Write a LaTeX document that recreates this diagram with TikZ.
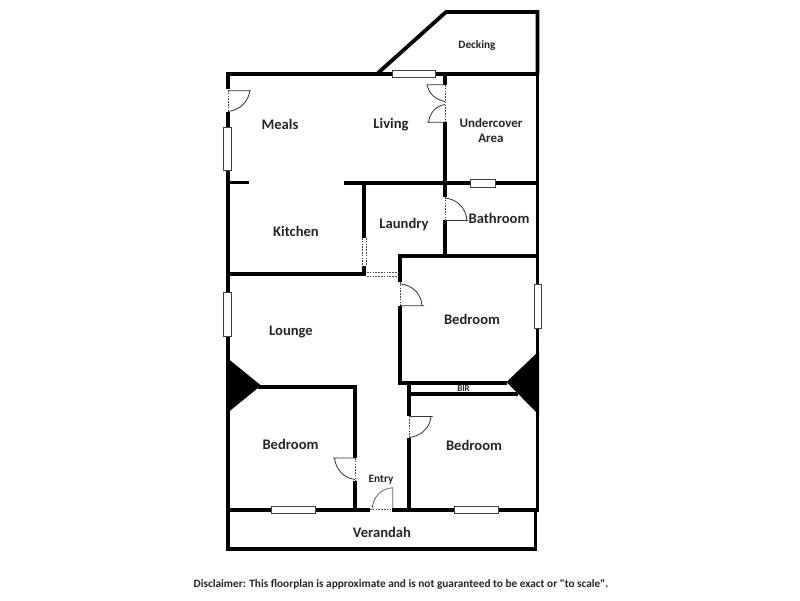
\documentclass[tikz,border=0pt]{standalone}
\usepackage{fontspec}
\newfontfamily\planfont{Carlito}
\tikzset{
  wall/.style={line width=3.8pt,black,line cap=butt},
  thinwall/.style={line width=3.2pt,black},
  window/.style={draw=black!75,fill=white,line width=0.8pt},
  doorgap/.style={draw=black!70,line width=0.7pt,dash pattern=on 1.6pt off 1.2pt},
  leaf/.style={draw=black!80,line width=0.8pt},
  room/.style={font=\planfont\bfseries\fontsize{14.6}{15}\selectfont,text=black!85,inner sep=0pt,align=center},
  small/.style={font=\planfont\bfseries\fontsize{11.3}{12}\selectfont,text=black!85,inner sep=0pt,align=center},
}
\begin{document}
\begin{tikzpicture}[x=1pt,y=-1pt]
\useasboundingbox (0,0) rectangle (800,600);
\fill[white] (0,0) rectangle (800,600);
% decking
\draw[wall,line join=miter] (378,73) -- (446,12) -- (537.5,12) -- (537.5,74);
% outer
\draw[wall] (226,74) -- (539,74);
\draw[wall] (227.7,74) -- (227.7,89);
\draw[wall] (227.7,112) -- (227.7,358);
\draw[wall] (537.5,74) -- (537.5,512);
\draw[wall] (227.7,358) -- (227.7,551);
% verandah
\draw[thinwall] (227.7,549) -- (537,549);
\draw[thinwall] (535.7,510) -- (535.7,550.5);
\draw[wall] (228,510) -- (370,510);
\draw[wall] (392,510) -- (539,510);
% upper interior
\draw[wall] (228,182.5) -- (249,182.5);
\draw[wall] (344,183) -- (537,183);
\draw[wall] (445,74) -- (445,84.5);
\draw[wall] (445,122) -- (445,197);
\draw[wall] (445,220) -- (445,256);
\draw[wall] (364.3,183) -- (364.3,238);
\draw[wall] (364.3,265.7) -- (364.3,276);
\draw[wall] (228,274) -- (366,274);
% right bedroom
\draw[wall] (537,256.3) -- (400.3,256.3) -- (400.3,281.7);
\draw[wall] (400.3,305.7) -- (400.3,383) -- (507,383);
\draw[wall] (409.3,383) -- (409.3,416);
\draw[wall] (409.3,438) -- (409.3,510);
\draw[wall] (408,394) -- (518,394);
% left bedroom
\draw[wall] (258,387) -- (355,387) -- (355,457.7);
\draw[wall] (355,480.7) -- (355,510);
% black wedges
\fill[black] (226,357) -- (261,385.5) -- (226,414) -- cycle;
\fill[black] (539,351) -- (506.5,382) -- (539,415) -- cycle;
% windows
\draw[window] (392,70.5) rectangle (435,77.7);
\draw[window] (223.5,127) rectangle (231.5,170);
\draw[window] (470,179.2) rectangle (495.7,187);
\draw[window] (223.5,292) rectangle (231.5,336);
\draw[window] (534,284) rectangle (541.5,328);
\draw[window] (271.7,506) rectangle (315.7,513.7);
\draw[window] (454,506) rectangle (498,513.7);
% door gaps
\draw[doorgap] (228,90) -- (228,112);
\draw[doorgap] (445,85) -- (445,122);
\draw[doorgap] (445,197) -- (445,220);
\draw[doorgap] (362.5,238) -- (362.5,266) (366.5,238) -- (366.5,266);
\draw[doorgap] (367,272) -- (398.5,272) (367,276.5) -- (398.5,276.5);
\draw[doorgap] (400.3,282) -- (400.3,305.7);
\draw[doorgap] (409.3,416.5) -- (409.3,438);
\draw[doorgap] (355,458) -- (355,480.5);
\draw[doorgap] (370,509.5) -- (392,509.5);
% door leaves
\draw[leaf] (228,90.7) -- (251,90.7) (250,90.7) .. controls (248,102) and (240,110) .. (228,111.5);
\draw[leaf] (445,84.7) -- (427,84.7) .. controls (429,94) and (436,100) .. (445,101.5);
\draw[leaf] (427,122.3) -- (445,122.3) (428.5,122.3) .. controls (430,112) and (436,106) .. (445,104.5);
\draw[leaf] (445,220.5) -- (468,220.5) (467,220.5) .. controls (466,208) and (457,199) .. (445,198);
\draw[leaf] (400.3,305.7) -- (424,305.7) (422,305.7) .. controls (421,293) and (412,285) .. (400.3,284);
\draw[leaf] (409.3,416.5) -- (432.5,416.5) (431,416.5) .. controls (430,428) and (421,436) .. (409.3,437.5);
\draw[leaf] (333,458) -- (355,458) (334.5,458) .. controls (336,470) and (344,478) .. (355,479.5);
\draw[leaf,black!60] (392.7,508) -- (392.7,487.7) .. controls (381,488.5) and (373,497) .. (372,509);
% labels
\node[small] (decking) at (477,45) {Decking};
\node[room] (meals) at (280,124.5) {Meals};
\node[room] (living) at (391,125) {Living};
\node[small,font=\planfont\bfseries\fontsize{13}{15.5}\selectfont] (undercover) at (491,130.5) {Undercover\\Area};
\node[room] (kitchen) at (296,231) {Kitchen};
\node[room] (laundry) at (404,224.5) {Laundry};
\node[room] (bathroom) at (499,218) {Bathroom};
\node[room] (lounge) at (291,331.5) {Lounge};
\node[room] (bedrooma) at (472,319.5) {Bedroom};
\node[small,font=\planfont\bfseries\fontsize{9}{9}\selectfont] (bir) at (463.5,389) {BIR};
\node[room] (bedroomb) at (290.5,444.5) {Bedroom};
\node[room] (bedroomc) at (474,445.5) {Bedroom};
\node[small] (entry) at (381,480) {Entry};
\node[room] (verandah) at (382,532.5) {Verandah};
\node[small] (disclaimer) at (401,584) {Disclaimer: This floorplan is approximate and is not guaranteed to be exact or "to scale".};
\end{tikzpicture}
\end{document}
